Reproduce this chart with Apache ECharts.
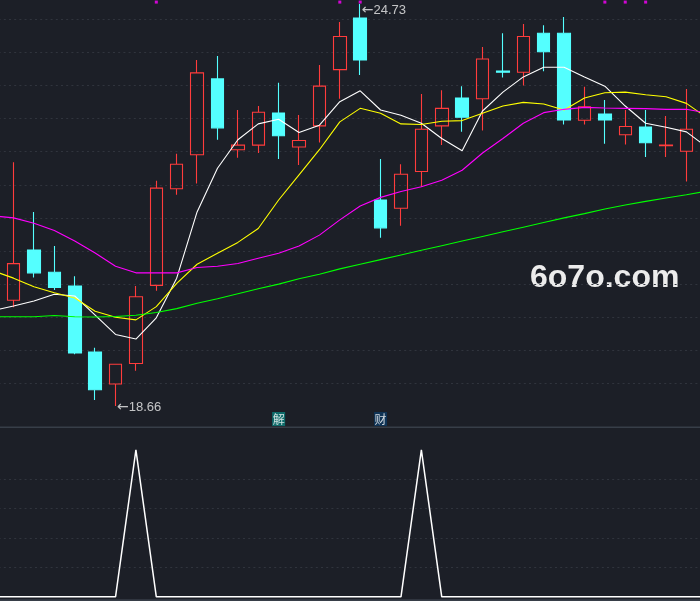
<!DOCTYPE html>
<html><head><meta charset="utf-8">
<script src="https://cdn.jsdelivr.net/npm/echarts@6/dist/echarts.min.js"></script>
<style>html,body{margin:0;padding:0;background:#1c1f27;overflow:hidden;width:700px;height:601px;position:relative}
#c{position:absolute;left:-17px;top:-14px;width:734px;height:615px}</style>
</head><body><div id="c"></div>
<script>
// one hidden slot at each side so the moving averages run off the edges
const categories = ['1','2','3','4','5','6','7','8','9','10','11','12','13','14','15','16','17','18',
  '19','20','21','22','23','24','25','26','27','28','29','30','31','32','33','34','35','36'];
const EMPTY = ['-', '-', '-', '-'];
// [open, close, lowest, highest]
const candles = [
  EMPTY,
  [20.255, 20.81, 20.15, 22.34], [21.015, 20.67, 20.60, 21.59], [20.68, 20.45, 20.41, 21.075],
  [20.47, 19.46, 19.44, 20.62], [19.474, 18.905, 18.75, 19.54], [18.99, 19.29, 18.66, 19.29],
  [19.30, 20.31, 19.19, 20.47], [20.48, 21.95, 20.40, 22.06], [21.94, 22.31, 21.85, 22.47],
  [22.455, 23.69, 22.02, 23.885], [23.60, 22.86, 22.68, 23.945], [22.53, 22.60, 22.41, 23.13],
  [22.60, 23.095, 22.48, 23.19], [23.085, 22.74, 22.39, 23.54], [22.57, 22.67, 22.30, 23.055],
  [22.89, 23.49, 22.64, 23.81], [23.74, 24.24, 23.30, 24.46], [24.52, 23.885, 23.66, 24.73],
  [21.77, 21.35, 21.20, 22.39], [21.645, 22.16, 21.38, 22.31], [22.20, 22.84, 21.97, 23.37],
  [22.89, 23.155, 22.60, 23.43], [23.31, 23.02, 22.80, 23.49], [23.30, 23.90, 22.82, 24.08],
  [23.72, 23.70, 23.62, 24.29], [23.70, 24.24, 23.50, 24.43], [24.29, 24.01, 23.715, 24.41],
  [24.29, 22.98, 22.91, 24.535], [22.974, 23.18, 22.91, 23.48], [23.07, 22.98, 22.62, 23.28],
  [22.757, 22.88, 22.61, 23.13], [22.873, 22.636, 22.42, 23.13], [22.59, 22.60, 22.42, 23.04],
  [22.506, 22.84, 22.05, 23.447],
  EMPTY
];
const ma5 = [20.10, 20.17, 20.245, 20.346, 20.32, 20.03, 19.74, 19.67, 19.99, 20.59, 21.59, 22.25,
  22.68, 22.92, 22.99, 22.79, 22.90, 23.255, 23.42, 23.13, 23.05, 22.93, 22.70, 22.515, 23.115, 23.40,
  23.63, 23.775, 23.775, 23.63, 23.49, 23.19, 22.93, 22.87, 22.80, 22.57];
const ma10 = [20.70, 20.59, 20.46, 20.37, 20.29, 20.09, 20.00, 19.96, 20.16, 20.51, 20.80, 20.965,
  21.13, 21.34, 21.77, 22.15, 22.53, 22.95, 23.155, 23.08, 22.92, 22.91, 22.96, 22.97, 23.08, 23.19,
  23.245, 23.22, 23.13, 23.31, 23.39, 23.40, 23.36, 23.33, 23.23, 23.015];
const ma20 = [21.53, 21.50, 21.42, 21.31, 21.15, 20.97, 20.77, 20.67, 20.67, 20.67, 20.75, 20.77,
  20.81, 20.89, 20.965, 21.075, 21.24, 21.47, 21.68, 21.81, 21.90, 21.97, 22.07, 22.22, 22.48, 22.70,
  22.93, 23.09, 23.14, 23.17, 23.16, 23.155, 23.15, 23.14, 23.14, 23.085];
const ma60 = [20.007, 20.007, 20.007, 20.025, 20.007, 20.003, 20.01, 20.03, 20.07, 20.13, 20.21, 20.28,
  20.355, 20.43, 20.50, 20.58, 20.65, 20.73, 20.80, 20.87, 20.94, 21.01, 21.08, 21.15, 21.22, 21.29,
  21.36, 21.43, 21.50, 21.565, 21.635, 21.695, 21.75, 21.80, 21.85, 21.905];
// top-row magenta signal marks (slot indices) and their level
const signalSlots = [8, 17, 18, 30, 31, 32];
const signalLevel = 24.76;
// tags at the bottom of the price pane
const tagSlots = [14, 19];
const tagTexts = ['解', '财'];
const tagColors = ['#0b7d7a', '#0c3862'];
const tagLevel = 18.5;
// extremes annotated on the price pane [slot, value]
const highMark = [18, 24.73];
const lowMark = [6, 18.66];
// lower indicator pane
const indicator = [0,0,0,0,0,0,0,100,0,0,0,0,0,0,0,0,0,0,0,0,0,100,0,0,0,0,0,0,0,0,0,0,0,0,0,0];
const priceTicks = {min: 18.5, max: 25, interval: 0.5};
const indTicks = {min: 0, max: 100, interval: 20};

const BG = '#1c1f27';
const GRID = '#30343d';
// the chart canvas is shifted 17px left and 14px up so the outer slots fall off-screen
const OX = 17, OY = 14;
const chart = echarts.init(document.getElementById('c'), null, {renderer: 'canvas', width: 734, height: 615});
const dashed = {show: true, showMinLine: false, showMaxLine: false,
  lineStyle: {color: GRID, type: [2, 3.2], width: 1}};
const maLine = (data, color) => ({type: 'line', data, xAxisIndex: 0, yAxisIndex: 0, symbol: 'none',
  showSymbol: false, smooth: false, z: 4, lineStyle: {color, width: 1.1}, silent: true});
const noAxis = {axisLine: {show: false}, axisTick: {show: false}, axisLabel: {show: false}};
const markLabel = {show: true, position: 'right', distance: 1,
  formatter: p => '{a|\u2190}{b|' + Number(p.value[1]).toFixed(2) + '}',
  rich: {
    a: {color: '#eeeeee', fontSize: 14, fontFamily: 'DejaVu Sans'},
    b: {color: '#eeeeee', fontSize: 13, fontFamily: 'Liberation Sans'}
  }};
const tagLabel = k => ({show: true, position: 'inside', offset: [0, 2.5], formatter: tagTexts[k],
  color: '#ffffff', fontSize: 12, lineHeight: 13, padding: [1, 0.5, 0, 0.5],
  backgroundColor: tagColors[k], fontFamily: 'Noto Sans CJK SC'});

chart.setOption({
  backgroundColor: BG,
  animation: false,
  grid: [
    {left: 0, right: 0, top: 0.2, height: 430.3},
    {left: 0, right: 0, top: 463.8, height: 147}
  ],
  xAxis: [
    Object.assign({type: 'category', data: categories, gridIndex: 0, boundaryGap: true, splitLine: {show: false}}, noAxis),
    Object.assign({type: 'category', data: categories, gridIndex: 1, boundaryGap: true, splitLine: {show: false}}, noAxis)
  ],
  yAxis: [
    Object.assign({type: 'value', gridIndex: 0, min: priceTicks.min, max: priceTicks.max,
      interval: priceTicks.interval, splitLine: dashed}, noAxis),
    Object.assign({type: 'value', gridIndex: 1, min: indTicks.min, max: indTicks.max,
      interval: indTicks.interval, splitLine: dashed}, noAxis)
  ],
  series: [
    {type: 'candlestick', data: candles, xAxisIndex: 0, yAxisIndex: 0, barWidth: 13, z: 2,
     itemStyle: {color: 'rgba(0,0,0,0)', color0: '#54ffff', borderColor: '#ff3c3c',
       borderColor0: '#54ffff', borderWidth: 1.1}},
    maLine(ma5, '#ffffff'),
    maLine(ma10, '#ffff00'),
    maLine(ma20, '#ff00ff'),
    maLine(ma60, '#00ff00'),
    {type: 'scatter', xAxisIndex: 0, yAxisIndex: 0, symbol: 'rect', symbolSize: 3, z: 5,
     itemStyle: {color: '#ff00ff'}, data: signalSlots.map(i => [i, signalLevel]), silent: true},
    {type: 'scatter', xAxisIndex: 0, yAxisIndex: 0, symbolSize: 1, z: 6, silent: true,
     itemStyle: {color: 'rgba(0,0,0,0)'},
     data: [
       {value: highMark, label: Object.assign({}, markLabel, {offset: [0, 6]})},
       {value: lowMark, label: Object.assign({}, markLabel, {offset: [0, 1.5]})}
     ]},
    {type: 'scatter', xAxisIndex: 0, yAxisIndex: 0, symbolSize: 1, z: 5, silent: true,
     itemStyle: {color: 'rgba(0,0,0,0)'},
     data: tagSlots.map((i, k) => ({value: [i, tagLevel], label: tagLabel(k)}))},
    {type: 'line', data: indicator, xAxisIndex: 1, yAxisIndex: 1, symbol: 'none', showSymbol: false,
     clip: false, z: 4, lineStyle: {color: '#ffffff', width: 1.5}, silent: true}
  ],
  graphic: [
    {type: 'rect', shape: {x: OX, y: 426.4 + OY, width: 700, height: 1.6}, style: {fill: '#373e48'}, silent: true},
    {type: 'rect', shape: {x: OX, y: 599.3 + OY, width: 700, height: 1.7}, style: {fill: '#373e48'}, silent: true},
    {type: 'text', x: 530 + OX, y: 278 + OY, silent: true,
     style: {text: '6o7o.com', fill: '#ececec', font: 'bold 32px "Liberation Sans"',
       verticalAlign: 'middle', align: 'left'}}
  ]
});
</script></body></html>
